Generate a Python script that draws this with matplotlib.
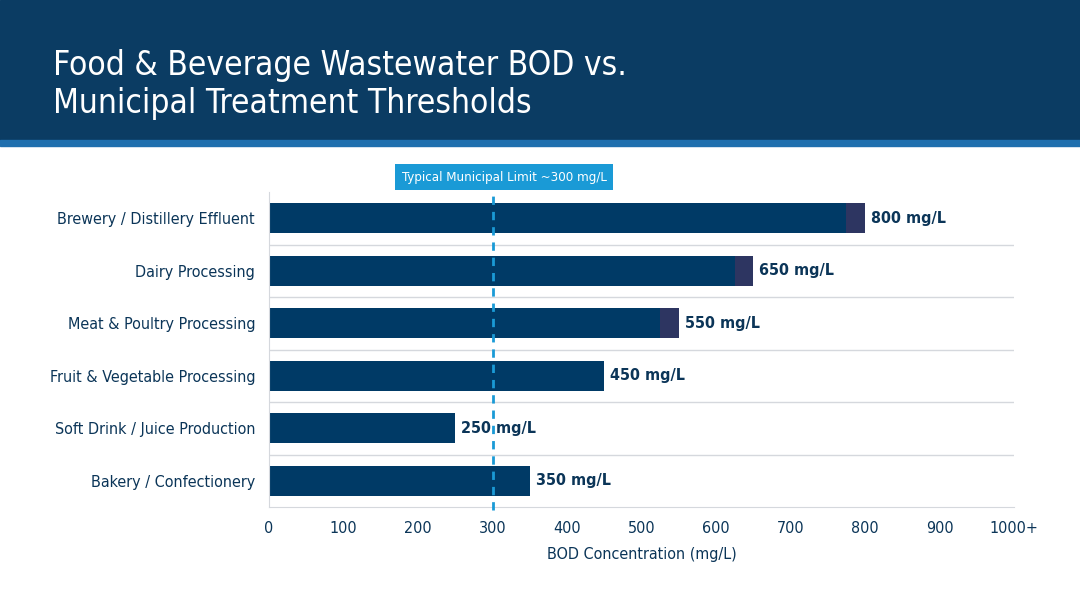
import matplotlib
matplotlib.use("Agg")
import matplotlib.pyplot as plt
from matplotlib.patches import Rectangle

plt.rcParams['font.family'] = ['DejaVu Sans']
plt.rcParams['font.stretch'] = 'condensed'

categories = ["Brewery / Distillery Effluent", "Dairy Processing", "Meat & Poultry Processing",
              "Fruit & Vegetable Processing", "Soft Drink / Juice Production", "Bakery / Confectionery"]
bod = [800, 650, 550, 450, 250, 350]
limit = 300
ticks = [0, 100, 200, 300, 400, 500, 600, 700, 800, 900, 1000]
tick_labels = ["0", "100", "200", "300", "400", "500", "600", "700", "800", "900", "1000+"]

navy = "#003a66"
over = "#2d3561"
text_c = "#0b3558"

fig = plt.figure(figsize=(10.8, 6.03), dpi=100)
# header band
fig.patches.append(Rectangle((0, 1 - 140/603), 1, 140/603, transform=fig.transFigure, color="#0b3c63", zorder=0))
fig.patches.append(Rectangle((0, 1 - 146/603), 1, 6/603, transform=fig.transFigure, color="#1f6fae", zorder=0))
fig.text(0.049, 0.86, "Food & Beverage Wastewater BOD vs.\nMunicipal Treatment Thresholds",
         color="white", fontsize=24, va="center", ha="left", linespacing=1.2)

ax = fig.add_axes([269/1080, 1 - 507/603, 745/1080, 315/603])
y = range(len(categories))
for i, v in enumerate(bod):
    ax.barh(i, v, height=0.57, color=navy, zorder=2)
    if v > 500:
        ax.barh(i, 25, left=v - 25, height=0.57, color=over, zorder=2)
    ax.text(v + 8, i, f"{v} mg/L", va="center", ha="left", fontsize=11.5, color=text_c, fontweight="bold")

for b in [0.5, 1.5, 2.5, 3.5, 4.5]:
    ax.axhline(b, color="#d5d8dd", lw=1, zorder=1)

ax.axvline(limit, ymin=-0.01, ymax=1.0, color="#1a9ad6", lw=2, ls=(0, (3, 2.5)), zorder=3, clip_on=False)
ax.text(limit + 16, -0.78, "Typical Municipal Limit ~300 mg/L", fontsize=9.5, color="white",
        va="center", ha="center", zorder=4,
        bbox=dict(boxstyle="square,pad=0.5", fc="#1a9ad6", ec="none"))

ax.set_xlim(0, 1000)
ax.set_ylim(5.5, -0.5)
ax.set_yticks(list(y))
ax.set_yticklabels(categories, fontsize=11.5, color=text_c)
ax.set_xticks(ticks)
ax.set_xticklabels(tick_labels, fontsize=11.5, color=text_c)
ax.tick_params(length=0, pad=10)
ax.set_xlabel("BOD Concentration (mg/L)", fontsize=11.5, color=text_c, labelpad=8)
for s in ["top", "right"]:
    ax.spines[s].set_visible(False)
ax.spines["left"].set_color("#d5d8dd")
ax.spines["bottom"].set_color("#d5d8dd")

fig.savefig("out.png", dpi=100)
